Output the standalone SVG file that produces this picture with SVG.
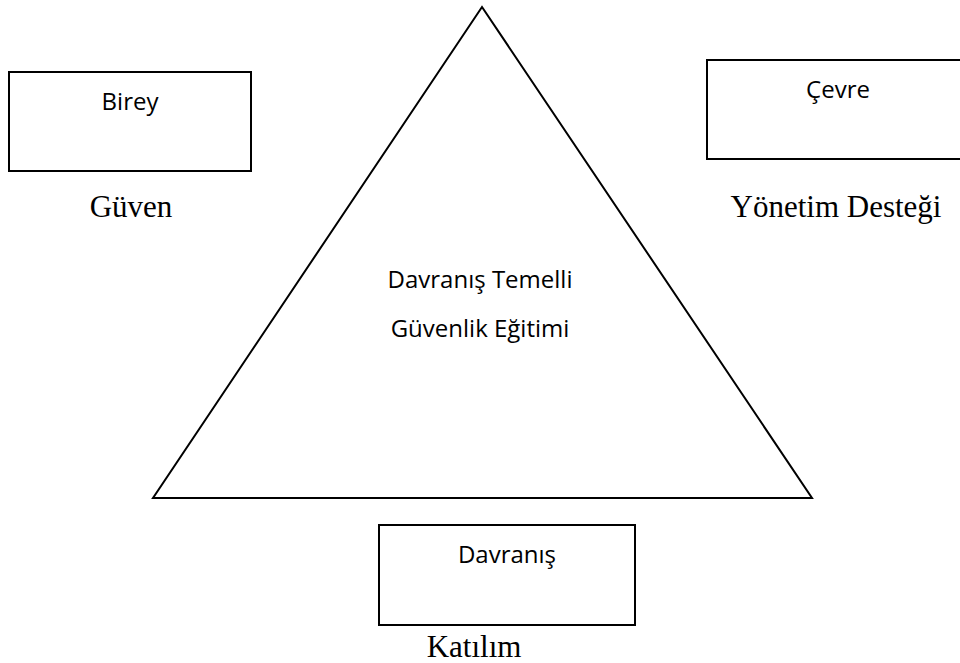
<svg xmlns="http://www.w3.org/2000/svg" width="960" height="663" viewBox="0 0 960 663">
  <style>
    .box { fill: #ffffff; stroke: #000000; stroke-width: 2; }
    .tri { fill: none; stroke: #000000; stroke-width: 2; stroke-linejoin: miter; }
    .sans { font-family: "Open Sans", "Liberation Sans", sans-serif; font-size: 24px; fill: #000000; text-anchor: middle; }
    .serif { font-family: "Liberation Serif", "Times New Roman", serif; font-size: 31px; fill: #000000; text-anchor: middle; }
  </style>
  <rect width="960" height="663" fill="#ffffff"/>

  <!-- central triangle -->
  <g id="triangle">
    <polygon class="tri" points="482,7 153,498 812,498"/>
    <text class="sans" x="480" y="288">Davranış Temelli</text>
    <text class="sans" x="480" y="337">Güvenlik Eğitimi</text>
  </g>

  <!-- individual -->
  <g id="birey">
    <rect class="box" x="9" y="72" width="242" height="99"/>
    <text class="sans" x="130" y="110">Birey</text>
  </g>
  <g id="guven">
    <text class="serif" x="131" y="217">Güven</text>
  </g>

  <!-- environment -->
  <g id="cevre">
    <rect class="box" x="707" y="60" width="270" height="99"/>
    <text class="sans" x="838" y="98">Çevre</text>
  </g>
  <g id="yonetim">
    <text class="serif" x="836" y="217">Yönetim Desteği</text>
  </g>

  <!-- behaviour -->
  <g id="davranis">
    <rect class="box" x="379" y="525" width="256" height="100"/>
    <text class="sans" x="507" y="563">Davranış</text>
  </g>
  <g id="katilim">
    <text class="serif" x="474" y="657">Katılım</text>
  </g>

  <g id="connectors"></g>
</svg>
